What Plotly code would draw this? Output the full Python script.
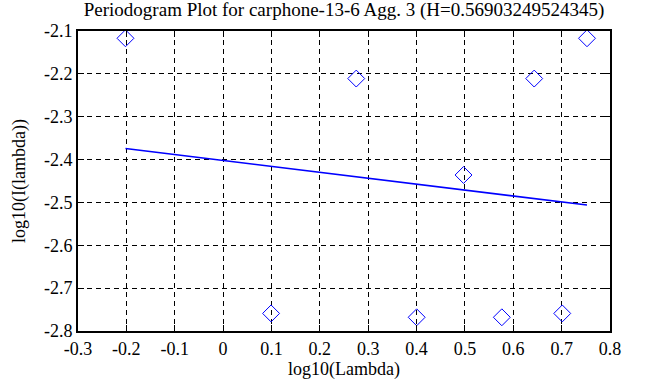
import numpy as np
import plotly.graph_objects as go

# Data
k = [1, 2, 3, 4, 5, 6, 7, 8, 9]
log_lambda = [float(np.log10(2 * np.pi * i / 10)) for i in k]
log_I = [-2.117, -2.759, -2.211, -2.768, -2.436, -2.768, -2.211, -2.759, -2.117]
H = 0.56903249524345
fit_slope = 1 - 2 * H
fit_intercept = -2.4021

x_ticks = [-0.3, -0.2, -0.1, 0, 0.1, 0.2, 0.3, 0.4, 0.5, 0.6, 0.7, 0.8]
x_tick_labels = ["-0.3", "-0.2", "-0.1", "0", "0.1", "0.2", "0.3", "0.4", "0.5", "0.6", "0.7", "0.8"]
y_ticks = [-2.8, -2.7, -2.6, -2.5, -2.4, -2.3, -2.2, -2.1]
y_tick_labels = ["-2.8", "-2.7", "-2.6", "-2.5", "-2.4", "-2.3", "-2.2", "-2.1"]

fit_x = [min(log_lambda), max(log_lambda)]
fit_y = [fit_intercept + fit_slope * v for v in fit_x]

fig = go.Figure()
fig.add_trace(go.Scatter(
    x=log_lambda, y=log_I, mode="markers",
    marker=dict(symbol="diamond-open", size=13, color="#0000ff", line=dict(width=1, color="#0000ff")),
    showlegend=False, cliponaxis=False,
))
fig.add_trace(go.Scatter(
    x=fit_x, y=fit_y, mode="lines",
    line=dict(color="#0000ff", width=1.6),
    showlegend=False,
))

FAM = "Liberation Serif, Times New Roman, serif"
font = dict(family=FAM, size=18, color="black")
axis_common = dict(
    showline=True, linecolor="black", linewidth=2, mirror="allticks",
    ticks="inside", ticklen=6, tickcolor="black", tickwidth=1,
    showgrid=True, gridcolor="black", gridwidth=1, griddash="5px,4px",
    zeroline=False, tickfont=font,
)
fig.update_xaxes(range=[-0.3, 0.8], tickvals=x_ticks, ticktext=x_tick_labels,
                 title=dict(text="log10(Lambda)", font=font, standoff=5), **axis_common)
fig.update_yaxes(range=[-2.8, -2.1], tickvals=y_ticks, ticktext=y_tick_labels,
                 title=dict(text="log10(I(lambda))", font=font, standoff=14), **axis_common)

fig.update_layout(
    width=663, height=387,
    margin=dict(l=78, r=53, t=31, b=56),
    paper_bgcolor="white", plot_bgcolor="white",
    font=font,
    title=dict(text="Periodogram Plot for carphone-13-6 Agg. 3 (H=0.56903249524345)",
               x=(78 + 610) / 2 / 663, xanchor="center", y=1 - 9 / 387, yanchor="middle",
               font=dict(family=FAM, size=19, color="black")),
)

fig.write_html("out.html", config={"displayModeBar": False},
               post_script="document.body.style.margin='0';")
